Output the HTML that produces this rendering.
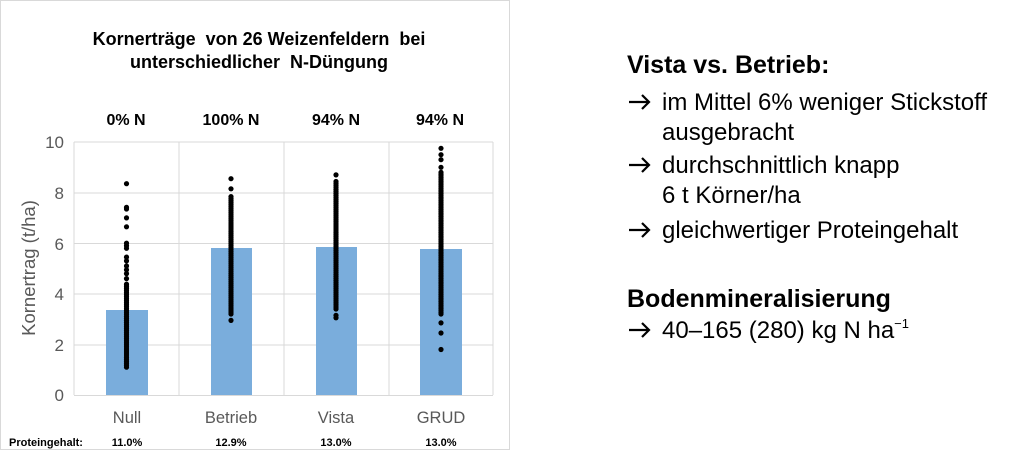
<!DOCTYPE html>
<html><head><meta charset="utf-8"><style>
body{margin:0;width:1024px;height:456px;background:#fff;overflow:hidden;font-family:"Liberation Sans",sans-serif;}
svg{position:absolute;left:0;top:0}
</style></head><body>
<svg width="1024" height="456" id="s" font-family="Liberation Sans, sans-serif">
<rect x="0.5" y="0.5" width="509" height="449" fill="#fff" stroke="#d9d9d9"/>
<text x="259" y="45" font-size="18" font-weight="bold" text-anchor="middle" xml:space="preserve">Kornerträge  von 26 Weizenfeldern  bei</text>
<text x="259" y="68" font-size="18" font-weight="bold" text-anchor="middle" xml:space="preserve">unterschiedlicher  N-Düngung</text>
<g font-size="16" font-weight="bold" text-anchor="middle">
<text x="126" y="125">0% N</text><text x="231" y="125">100% N</text><text x="336" y="125">94% N</text><text x="440" y="125">94% N</text></g>
<g stroke="#d9d9d9" stroke-width="1">
<line x1="74" y1="142" x2="493" y2="142"/><line x1="74" y1="193" x2="493" y2="193"/><line x1="74" y1="243.5" x2="493" y2="243.5"/><line x1="74" y1="294" x2="493" y2="294"/><line x1="74" y1="345" x2="493" y2="345"/>
<line x1="74" y1="142" x2="74" y2="395"/><line x1="179" y1="142" x2="179" y2="395"/><line x1="284" y1="142" x2="284" y2="395"/><line x1="389" y1="142" x2="389" y2="395"/><line x1="493" y1="142" x2="493" y2="395"/>
<line x1="74" y1="395.5" x2="493" y2="395.5"/></g>
<g fill="#7aaddc">
<rect x="106" y="310" width="42" height="85"/><rect x="211" y="248" width="41" height="147"/><rect x="316" y="247" width="41" height="148"/><rect x="420" y="249" width="42" height="146"/></g>
<g font-size="17" fill="#595959" text-anchor="end">
<text x="64" y="148">10</text><text x="64" y="199">8</text><text x="64" y="250">6</text><text x="64" y="300">4</text><text x="64" y="351">2</text><text x="64" y="401">0</text></g>
<text transform="translate(35,268) rotate(-90)" font-size="18.5" fill="#595959" text-anchor="middle">Kornertrag (t/ha)</text>
<g font-size="16.5" fill="#595959" text-anchor="middle">
<text x="127" y="423">Null</text><text x="231" y="423">Betrieb</text><text x="336" y="423">Vista</text><text x="441" y="423">GRUD</text></g>
<g font-size="11" font-weight="bold" text-anchor="middle">
<text x="9" y="446" text-anchor="start">Proteingehalt:</text>
<text x="127" y="446">11.0%</text><text x="231" y="446">12.9%</text><text x="336" y="446">13.0%</text><text x="441" y="446">13.0%</text></g>
<g id="d" fill="#000"></g>
<g font-size="24" fill="#000">
<text x="627" y="73" font-size="25" font-weight="bold">Vista vs. Betrieb:</text>
<text x="662" y="110">im Mittel 6% weniger Stickstoff</text>
<text x="662" y="140">ausgebracht</text>
<text x="662" y="173">durchschnittlich knapp</text>
<text x="662" y="203">6 t Körner/ha</text>
<text x="662" y="238">gleichwertiger Proteingehalt</text>
<text x="627" y="307" font-size="25" font-weight="bold">Bodenmineralisierung</text>
<text x="662" y="338">40–165 (280) kg N ha<tspan font-size="13" dy="-10">−1</tspan></text>
</g>
<g fill="none" stroke="#000" stroke-width="2.2">
<path d="M629 102H649M642 95L649 102L642 109"/>
<path d="M629 165H649M642 158L649 165L642 172"/>
<path d="M629 230H649M642 223L649 230L642 237"/>
<path d="M629 330H649M642 323L649 330L642 337"/>
</g>
</svg>
<script>
var g=document.getElementById('d'),s='';
function y(v){return 395-v*25.3;}
function add(x,vals){vals.forEach(function(v){s+='<circle cx="'+x+'" cy="'+y(v).toFixed(1)+'" r="2.6"/>';});}
function range(a,b,st){var r=[];for(var v=a;v<=b+1e-9;v+=st)r.push(v);return r;}
add(126.5,range(1.1,4.4,0.08).concat([4.6,4.8,4.95,5.1,5.3,5.45,5.8,5.9,6.0,6.65,7.0,7.35,7.42,8.35]));
add(231,[2.95].concat(range(3.2,7.9,0.08)).concat([8.15,8.55]));
add(336,[3.05,3.15].concat(range(3.4,8.5,0.08)).concat([8.7]));
add(441,[1.8,2.45,2.85].concat(range(3.2,8.8,0.07)).concat([9.0,9.3,9.5,9.75]));
g.innerHTML=s;
</script>
</body></html>
